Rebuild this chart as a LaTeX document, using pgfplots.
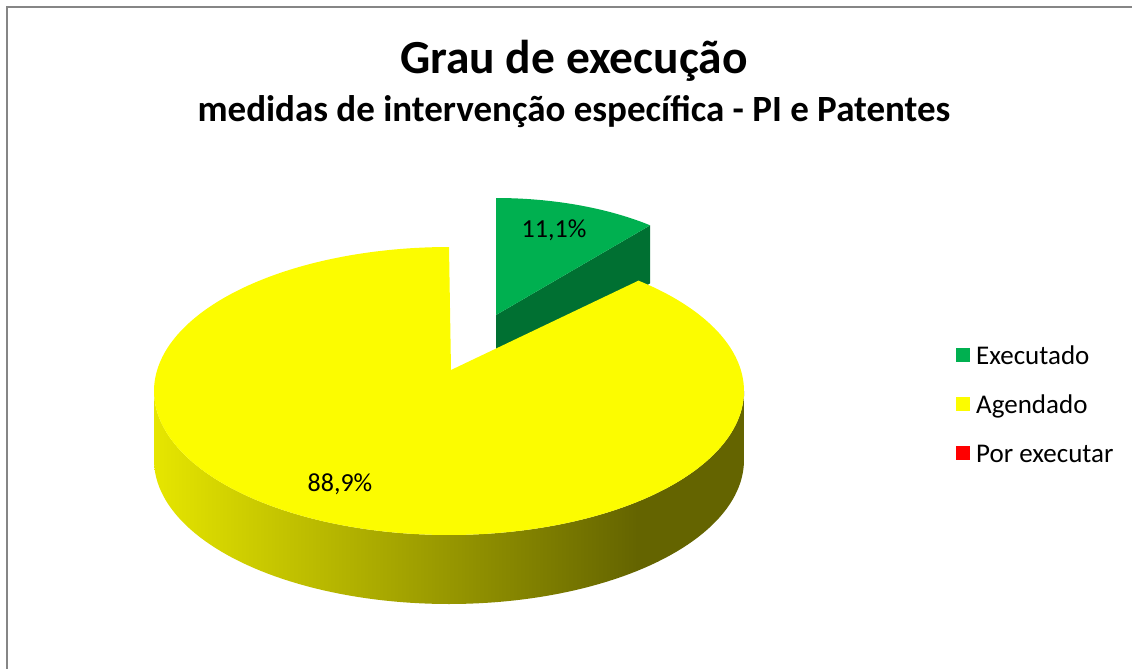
\documentclass[border=0pt]{standalone}
\usepackage{pgfplots}
\pgfplotsset{compat=1.18}
\usepackage{fontspec}
\setmainfont{Carlito}
\definecolor{gtop}{RGB}{0,176,80}
\definecolor{gside}{RGB}{0,112,50}
\definecolor{ytop}{RGB}{252,252,0}
\definecolor{ys1}{RGB}{230,230,0}
\definecolor{ys2}{RGB}{100,100,0}
\definecolor{framec}{RGB}{134,134,134}
\definecolor{pred}{RGB}{255,0,0}
\pgfdeclarehorizontalshading{yside}{100bp}{color(0bp)=(ys1); color(25bp)=(ys1); color(66bp)=(ys2); color(100bp)=(ys2)}
\begin{document}
\begin{tikzpicture}
% shares (percent): Executado 11.1, Agendado 88.9, Por executar 0
\pgfmathsetmacro{\ae}{90-3.6*11.1}
\pgfmathsetmacro{\aa}{\ae-3.6*88.9}
\pgfmathsetmacro{\gcx}{496+240*cos(\ae)}
\pgfmathsetmacro{\gcy}{315-117*sin(\ae)}
\pgfmathsetmacro{\gcyb}{\gcy+58}
\begin{axis}[scale only axis, width=1132pt, height=669pt,
  xmin=0, xmax=1132, ymin=0, ymax=669, y dir=reverse,
  hide axis, clip=false,
  legend image code/.code={\path[#1] (0pt,-4pt) rectangle (14pt,10pt);},
  legend style={at={(axis cs:956,345)}, anchor=north west, draw=none, fill=none,
    inner sep=0pt, row sep=24pt, font=\fontsize{27}{31}\selectfont,
    cells={anchor=west},
    nodes={text height=19pt, text depth=6pt, inner sep=0pt},
    /tikz/every odd column/.append style={column sep=6pt}},
]
% green slice (exploded)
\addplot[draw=none, fill=gside, forget plot] coordinates {(496,315) (\gcx,\gcy) (\gcx,\gcyb) (496,373)} -- cycle;
\addplot[draw=none, fill=gtop, domain=\ae:90, samples=40, forget plot]
  ({496+240*cos(x)}, {315-117*sin(x)}) -- (axis cs:496,315) -- cycle;
% yellow side
\addplot[draw=none, shade, shading=yside, domain=0:2, samples=201, forget plot]
  ({449+295*cos(180+180*min(x,2-x))}, {391-144*sin(180+180*min(x,2-x))+69*(x>1.001)}) -- cycle;
% yellow top
\addplot[draw=none, fill=ytop, domain=\aa:\ae, samples=240, forget plot]
  ({449+295*cos(x)}, {391-144*sin(x)}) -- (axis cs:451,370) -- cycle;
% legend
\addlegendimage{draw=none, fill=gtop}
\addlegendentry{Executado}
\addlegendimage{draw=none, fill=ytop}
\addlegendentry{Agendado}
\addlegendimage{draw=none, fill=pred}
\addlegendentry{Por executar}
% labels
\node[anchor=base, font=\fontsize{26}{30}\selectfont] at (axis cs:554,237) {11,1\%};
\node[anchor=base, font=\fontsize{26}{30}\selectfont] at (axis cs:340,491) {88,9\%};
% titles
\node[anchor=base, font=\fontsize{47.5}{56}\selectfont\bfseries] at (axis cs:574,74) {Grau de execução};
\node[anchor=base, font=\fontsize{37}{44}\selectfont\bfseries] at (axis cs:574,121) {medidas de intervenção específica - PI e Patentes};
% frame
\draw[framec, line width=1.4pt] (axis cs:7,669) -- (axis cs:7,7) -- (axis cs:1132,7);
\end{axis}
\pgfresetboundingbox
\path (current axis.south west) rectangle (current axis.north east);
\end{tikzpicture}
\end{document}
